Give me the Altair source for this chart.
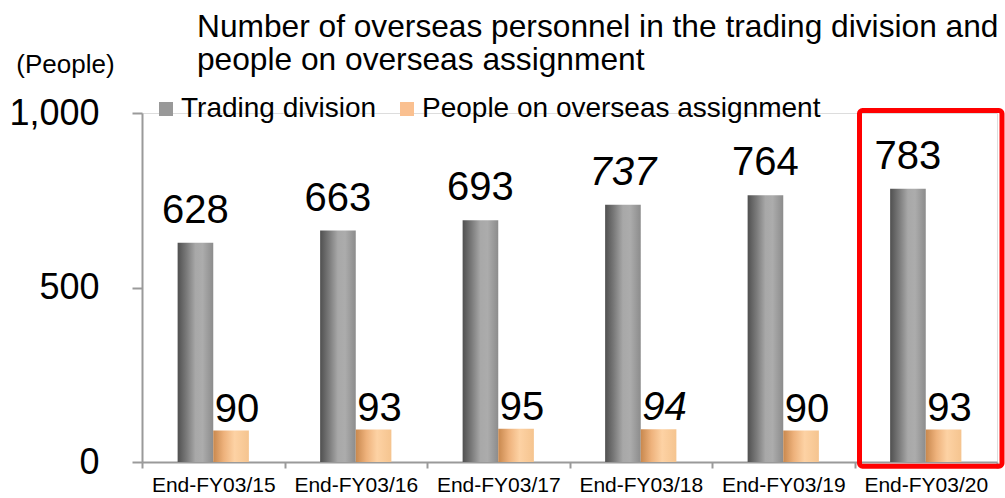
import altair as alt
import pandas as pd

FONT = "Liberation Sans"

categories = ["End-FY03/15", "End-FY03/16", "End-FY03/17",
              "End-FY03/18", "End-FY03/19", "End-FY03/20"]
trading = [628, 663, 693, 737, 764, 783]
overseas = [90, 93, 95, 94, 90, 93]
italic_trading = [False, False, False, True, False, False]
italic_overseas = [False, False, False, True, False, False]
series_names = ["Trading division", "People on overseas assignment"]
highlight = ["End-FY03/20"]
title_lines = ["Number of overseas personnel in the trading division and",
               "people on overseas assignment"]

rows = []
for i, c in enumerate(categories):
    rows.append(dict(cat=c, series=series_names[0], value=trading[i], italic=italic_trading[i]))
    rows.append(dict(cat=c, series=series_names[1], value=overseas[i], italic=italic_overseas[i]))
df = pd.DataFrame(rows)

x_enc = alt.X("cat:N", sort=categories,
              scale=alt.Scale(domain=categories, paddingInner=0, paddingOuter=0),
              axis=alt.Axis(title=None, labelFontSize=21, labelFont=FONT, labelColor="black",
                            labelAngle=0, tickBand="extent", domainColor="#9a9a9a",
                            domainWidth=2, tickColor="#9a9a9a", tickWidth=2, tickSize=6,
                            labelPadding=6, grid=False))
xo_enc = alt.XOffset("series:N", sort=series_names,
                     scale=alt.Scale(domain=series_names, paddingInner=0, paddingOuter=1))
y_enc = alt.Y("value:Q", scale=alt.Scale(domain=[0, 1000], nice=False),
              axis=alt.Axis(values=[0, 500, 1000], format=",d", grid=False,
                            labelFontSize=36, labelFont=FONT, labelColor="black",
                            labelPadding=33, tickSize=10, tickWidth=2, tickColor="#9a9a9a",
                            domainColor="#9a9a9a", domainWidth=2,
                            title="(People)", titleAngle=0, titleX=-77, titleY=-41,
                            titleAlign="center", titleBaseline="alphabetic",
                            titleFontSize=26, titleFontWeight="normal", titleFont=FONT,
                            titleColor="black"))

base = alt.Chart(df)

legend_layer = base.mark_square(opacity=0).encode(
    x=x_enc, y=y_enc, xOffset=xo_enc,
    color=alt.Color("series:N", sort=series_names,
                    scale=alt.Scale(domain=series_names, range=["#999999", "#fac090"]),
                    legend=alt.Legend(title=None, orient="none", legendX=10, legendY=-18,
                                      direction="horizontal", symbolType="square",
                                      symbolSize=196, symbolOpacity=1, symbolStrokeWidth=0,
                                      labelFontSize=28, labelFont=FONT, labelColor="black",
                                      labelOffset=1, columnPadding=16, labelLimit=700)))

gray_grad = alt.LinearGradient(
    gradient="linear", x1=0, x2=1, y1=0, y2=0,
    stops=[alt.GradientStop(color="#505050", offset=0),
           alt.GradientStop(color="#7a7a7a", offset=0.25),
           alt.GradientStop(color="#a8a8a8", offset=0.5),
           alt.GradientStop(color="#acacac", offset=0.7),
           alt.GradientStop(color="#8c8c8c", offset=1)])
peach_grad = alt.LinearGradient(
    gradient="linear", x1=0, x2=1, y1=0, y2=0,
    stops=[alt.GradientStop(color="#c8884e", offset=0),
           alt.GradientStop(color="#eeb27c", offset=0.3),
           alt.GradientStop(color="#fdd2a4", offset=0.6),
           alt.GradientStop(color="#f5c48f", offset=1)])

bars_gray = base.transform_filter(alt.datum.series == series_names[0]).mark_bar(
    color=gray_grad).encode(x=x_enc, xOffset=xo_enc, y=y_enc)
bars_peach = base.transform_filter(alt.datum.series == series_names[1]).mark_bar(
    color=peach_grad).encode(x=x_enc, xOffset=xo_enc, y=y_enc)

def labels(series, italic, dx, dy):
    return base.transform_filter(
        (alt.datum.series == series) & (alt.datum.italic == italic)
    ).mark_text(font=FONT, fontSize=40, color="black", baseline="alphabetic",
                align="center", dx=dx, dy=dy,
                fontStyle="italic" if italic else "normal").encode(
        x=x_enc, xOffset=xo_enc, y=y_enc, text=alt.Text("value:Q"))

text_layers = [labels(series_names[0], False, 0, -20), labels(series_names[0], True, 0, -20),
               labels(series_names[1], False, 6, -9), labels(series_names[1], True, 6, -9)]

box = alt.Chart(pd.DataFrame({"cat": highlight})).mark_rect(
    filled=False, stroke="#ff0000", strokeWidth=5, cornerRadius=3,
    xOffset=5, x2Offset=-2).encode(x=x_enc, y=alt.datum(1007), y2=alt.datum(-12))

chart = alt.layer(legend_layer, box, bars_gray, bars_peach, *text_layers).properties(
    width=855, height=349,
    padding={"left": 142, "top": 113, "right": 8, "bottom": 36},
    autosize=alt.AutoSizeParams(type="none"),
    title=alt.TitleParams(text=title_lines, anchor="start", frame="group", fontSize=31.7,
                          font=FONT, fontWeight="normal", color="black", lineHeight=33,
                          dx=55, dy=26, offset=0),
).configure_view(stroke=None).configure(background="white")

chart.save("out.html", embed_options={"renderer": "svg", "actions": False})
